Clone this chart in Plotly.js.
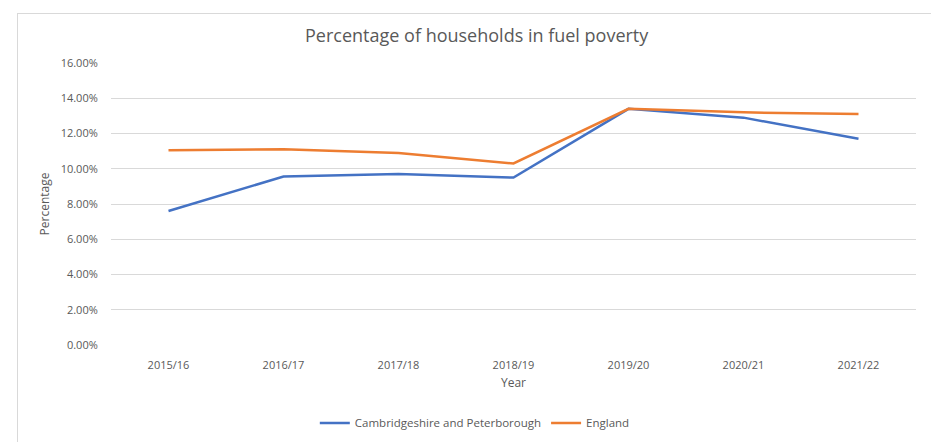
<!DOCTYPE html>
<html>
<head>
<meta charset="utf-8">
<script src="https://cdn.plot.ly/plotly-3.0.1.min.js"></script>
<style>
  html, body { margin: 0; padding: 0; background: #fff; }
  #frame { position: absolute; left: 17px; top: 13px; width: 920px; height: 435px; border: 1px solid #d9d9d9; box-sizing: border-box; pointer-events: none; }
  #chart { position: absolute; left: 0; top: 0; width: 931px; height: 442px; }
</style>
</head>
<body>
<div id="chart"></div>
<div id="frame"></div>
<script>
const years = ["2015/16", "2016/17", "2017/18", "2018/19", "2019/20", "2020/21", "2021/22"];
const cambsPeterborough = [7.6, 9.56, 9.7, 9.5, 13.4, 12.9, 11.7];
const england = [11.05, 11.1, 10.9, 10.3, 13.4, 13.2, 13.1];
const yTicks = [0, 2, 4, 6, 8, 10, 12, 14, 16];

const font = "Open Sans, Liberation Sans, sans-serif";
const traces = [
  { x: years, y: cambsPeterborough, type: "scatter", mode: "lines", name: "Cambridgeshire and Peterborough",
    line: { color: "#4472C4", width: 2.5 } },
  { x: years, y: england, type: "scatter", mode: "lines", name: "England",
    line: { color: "#ED7D31", width: 2.5 } }
];
const layout = {
  width: 931, height: 442,
  margin: { l: 111, r: 15, t: 63, b: 97 },
  paper_bgcolor: "#fff", plot_bgcolor: "#fff",
  font: { family: font, color: "#595959", size: 11 },
  title: { text: "Percentage of households in fuel poverty", font: { family: font, size: 18, color: "#595959" },
    x: 0.512, xanchor: "center", y: 0.92, yanchor: "middle" },
  xaxis: { type: "category", range: [-0.5, 6.5], showgrid: false, zeroline: false, showline: false,
    automargin: false,
    ticks: "outside", ticklen: 10, tickcolor: "rgba(0,0,0,0)",
    tickfont: { size: 11, color: "#595959" } },
  yaxis: { range: [0, 16], tickvals: yTicks, ticktext: yTicks.map(v => v.toFixed(2) + "%"),
    automargin: false,
    showgrid: true, gridcolor: "#d9d9d9", gridwidth: 1, zeroline: false, showline: false,
    ticks: "outside", ticklen: 10, tickcolor: "rgba(0,0,0,0)",
    tickfont: { size: 11, color: "#595959" },
    title: { text: "Percentage", font: { size: 12, color: "#595959" }, standoff: 8 } },
  annotations: [
    { text: "Year", xref: "paper", yref: "paper", x: 0.5, y: -0.134, xanchor: "center", yanchor: "middle",
      showarrow: false, font: { size: 12, color: "#595959" } }
  ],
  showlegend: true,
  legend: { orientation: "h", xref: "container", yref: "container", x: 0.51, xanchor: "center", y: 0.043, yanchor: "middle",
    font: { size: 11.5, color: "#595959" }, traceorder: "normal", itemwidth: 30 },
  hovermode: false
};
Plotly.newPlot("chart", traces, layout, { displayModeBar: false, staticPlot: true });
</script>
</body>
</html>
